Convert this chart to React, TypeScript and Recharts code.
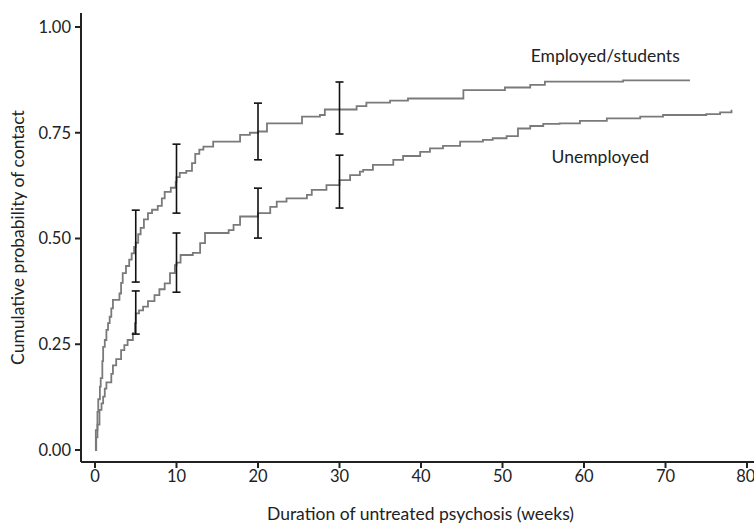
import {
  ComposedChart,
  Line,
  Scatter,
  ErrorBar,
  XAxis,
  YAxis,
  ReferenceDot,
} from "recharts";

// Kaplan-Meier style step curves (weeks, cumulative probability)
const employedWeeks = [
  0, 0.1, 0.3, 0.4, 0.6, 0.7, 0.9, 1.0, 1.2, 1.4, 1.6, 1.8, 2.0, 2.2, 3.0, 3.2,
  3.4, 3.8, 4.2, 4.5, 4.8, 5.0, 5.3, 5.6, 6.0, 6.5, 7.0, 7.7, 8.2, 8.55, 9.3,
  9.9, 10.0, 10.4, 11.2, 11.9, 12.3, 12.8, 13.3, 14.5, 17.8, 19.0, 20.0, 21.1,
  25.4, 27.6, 28.2, 32.1, 33.3, 36.2, 38.4, 45.2, 50.3, 53.4, 55.2, 64.8, 73.0,
];
const employedValues = [
  0, 0.047, 0.09, 0.12, 0.15, 0.17, 0.21, 0.244, 0.26, 0.284, 0.3, 0.315, 0.335,
  0.355, 0.37, 0.395, 0.418, 0.435, 0.45, 0.465, 0.48, 0.49, 0.51, 0.525, 0.545,
  0.56, 0.568, 0.577, 0.595, 0.61, 0.62, 0.634, 0.645, 0.655, 0.66, 0.678, 0.7,
  0.71, 0.717, 0.729, 0.745, 0.75, 0.753, 0.772, 0.788, 0.792, 0.805, 0.813,
  0.821, 0.826, 0.831, 0.851, 0.857, 0.863, 0.871, 0.874, 0.874,
];

const unemployedWeeks = [
  0, 0.15, 0.3, 0.55, 0.8, 1.0, 1.2, 1.4, 2.0, 2.2, 2.6, 3.2, 3.6, 4.0, 4.65,
  4.9, 5.0, 5.4, 5.9, 6.5, 7.3, 7.9, 8.55, 9.2, 9.8, 10.0, 10.5, 12.0, 12.9,
  13.5, 16.4, 17.0, 17.8, 20.0, 21.5, 22.3, 23.5, 26.0, 26.6, 28.4, 30.0, 31.3,
  32.5, 32.9, 34.1, 36.6, 37.8, 39.9, 41.1, 42.7, 44.8, 47.6, 48.8, 50.5, 51.9,
  53.4, 55.0, 57.0, 59.5, 62.8, 66.9, 69.7, 75.0, 76.7, 78.1, 78.2,
];
const unemployedValues = [
  0, 0.03, 0.06, 0.095, 0.11, 0.126, 0.145, 0.16, 0.18, 0.2, 0.215, 0.236,
  0.248, 0.26, 0.276, 0.3, 0.323, 0.33, 0.339, 0.352, 0.366, 0.38, 0.394, 0.418,
  0.437, 0.443, 0.461, 0.466, 0.489, 0.513, 0.52, 0.532, 0.552, 0.56, 0.575,
  0.587, 0.595, 0.603, 0.615, 0.626, 0.638, 0.65, 0.658, 0.662, 0.674, 0.686,
  0.695, 0.705, 0.713, 0.719, 0.729, 0.733, 0.737, 0.742, 0.76, 0.766, 0.771,
  0.772, 0.778, 0.784, 0.788, 0.792, 0.794, 0.798, 0.802, 0.802,
];

// 95% confidence intervals
const ciWeeks = [5, 10, 20, 30];
const employedMid = [0.48, 0.64, 0.753, 0.808];
const employedLow = [0.397, 0.56, 0.686, 0.747];
const employedHigh = [0.567, 0.723, 0.82, 0.87];
const unemployedMid = [0.325, 0.443, 0.56, 0.635];
const unemployedLow = [0.274, 0.373, 0.501, 0.572];
const unemployedHigh = [0.376, 0.513, 0.619, 0.697];

const xTicks = [0, 10, 20, 30, 40, 50, 60, 70, 80];
const yTicks = [0, 0.25, 0.5, 0.75, 1];

const toPoints = (xs: number[], ys: number[]) =>
  xs.map((x, i) => ({ x, y: ys[i] }));

const toCi = (mid: number[], low: number[], high: number[]) =>
  ciWeeks.map((x, i) => ({
    x,
    y: mid[i],
    err: [mid[i] - low[i], high[i] - mid[i]],
  }));

const FONT = "Lato, 'Open Sans', sans-serif";
const INK = "#222";
const CURVE = "#7a7a7a";
const TICK_SIZE = 16.5;
const TITLE_SIZE = 17.5;

const employedData = toPoints(employedWeeks, employedValues);
const unemployedData = toPoints(unemployedWeeks, unemployedValues);
const ciData = [
  ...toCi(employedMid, employedLow, employedHigh),
  ...toCi(unemployedMid, unemployedLow, unemployedHigh),
];

function YTitle({ viewBox }: { viewBox?: { x: number; y: number; width: number; height: number } }) {
  if (!viewBox) return null;
  const cx = 17;
  const cy = viewBox.y + viewBox.height / 2;
  return (
    <text
      x={cx}
      y={cy}
      transform={`rotate(-90, ${cx}, ${cy})`}
      textAnchor="middle"
      dominantBaseline="central"
      fill={INK}
      fontSize={TITLE_SIZE}
      fontFamily={FONT}
    >
      Cumulative probability of contact
    </text>
  );
}

export default function App() {
  return (
    <div style={{ fontFamily: FONT }}>
      <style>{"body{margin:0}"}</style>
      <ComposedChart
        width={754}
        height={524}
        margin={{ top: 13, right: 0, bottom: 0, left: 0 }}
      >
        <XAxis
          type="number"
          dataKey="x"
          domain={[0, 80]}
          ticks={xTicks}
          padding={{ left: 14, right: 7 }}
          height={62}
          tickSize={6}
          tickMargin={2}
          stroke={INK}
          strokeWidth={2}
          tick={{ fill: INK, fontSize: TICK_SIZE, fontFamily: FONT }}
          label={{
            value: "Duration of untreated psychosis (weeks)",
            position: "insideBottom",
            offset: 4,
            dx: 3,
            fill: INK,
            fontSize: TITLE_SIZE,
            fontFamily: FONT,
          }}
        />
        <YAxis
          type="number"
          dataKey="y"
          domain={[0, 1]}
          ticks={yTicks}
          padding={{ top: 14, bottom: 12 }}
          width={81}
          tickSize={6}
          tickMargin={4}
          tickFormatter={(v: number) => v.toFixed(2)}
          stroke={INK}
          strokeWidth={2}
          tick={{ fill: INK, fontSize: TICK_SIZE, fontFamily: FONT }}
          label={<YTitle />}
        />
        <Line
          data={employedData}
          dataKey="y"
          type="stepAfter"
          stroke={CURVE}
          strokeWidth={1.8}
          dot={false}
          isAnimationActive={false}
        />
        <Line
          data={unemployedData}
          dataKey="y"
          type="stepAfter"
          stroke={CURVE}
          strokeWidth={1.8}
          dot={false}
          isAnimationActive={false}
        />
        <Scatter
          data={ciData}
          dataKey="y"
          shape={() => <g />}
          isAnimationActive={false}
        >
          <ErrorBar
            dataKey="err"
            direction="y"
            width={4}
            stroke="#111"
            strokeWidth={1.6}
            isAnimationActive={false}
          />
        </Scatter>
        <ReferenceDot
          x={62.6}
          y={0.931}
          r={0}
          fill="none"
          stroke="none"
          label={{ value: "Employed/students", position: "center", fill: INK, fontSize: TITLE_SIZE, fontFamily: FONT }}
        />
        <ReferenceDot
          x={62}
          y={0.693}
          r={0}
          fill="none"
          stroke="none"
          label={{ value: "Unemployed", position: "center", fill: INK, fontSize: TITLE_SIZE, fontFamily: FONT }}
        />
      </ComposedChart>
    </div>
  );
}
